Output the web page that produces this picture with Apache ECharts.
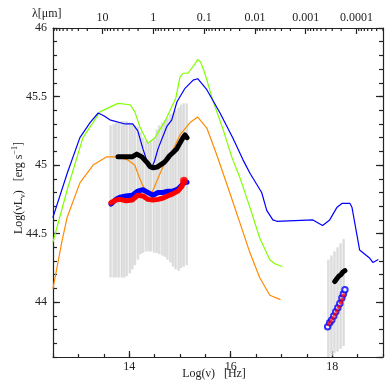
<!DOCTYPE html>
<html><head><meta charset="utf-8">
<script src="https://cdn.jsdelivr.net/npm/echarts@6/dist/echarts.min.js"></script>
<style>html,body{margin:0;padding:0;background:#fff}#c{width:390px;height:390px}</style>
</head><body><div id="c"></div>
<script>
// ---- data (x = log nu [Hz], y = log nuLnu [erg/s]) ----
const blueModel = [[12.5,44.62],[12.78,44.94],[13.03,45.20],[13.23,45.31],[13.39,45.38],[13.50,45.36],[13.62,45.33],[13.92,45.30],[14.07,45.30],[14.17,45.25],[14.27,45.12],[14.35,45.03],[14.43,44.97],[14.50,45.03],[14.57,45.12],[14.74,45.28],[14.84,45.33],[14.94,45.46],[15.10,45.56],[15.26,45.62],[15.35,45.63],[15.53,45.55],[15.79,45.38],[16.04,45.20],[16.24,45.04],[16.38,44.94],[16.61,44.80],[16.71,44.67],[16.83,44.60],[16.91,44.59],[17.62,44.60],[17.81,44.56],[17.95,44.60],[18.09,44.69],[18.19,44.72],[18.35,44.72],[18.39,44.69],[18.54,44.38],[18.74,44.32],[18.80,44.29],[18.90,44.31]];
const greenModel = [[12.5,44.44],[12.78,44.82],[13.09,45.20],[13.43,45.39],[13.78,45.45],[14.02,45.44],[14.11,45.39],[14.21,45.28],[14.37,45.16],[14.51,45.20],[14.72,45.33],[14.92,45.49],[15.00,45.64],[15.06,45.67],[15.16,45.67],[15.30,45.74],[15.35,45.77],[15.41,45.75],[15.49,45.67],[15.65,45.47],[15.85,45.26],[16.02,45.06],[16.18,44.91],[16.38,44.69],[16.57,44.47],[16.77,44.31],[16.87,44.28],[17.01,44.26]];
const orangeModel = [[12.5,44.10],[12.68,44.45],[12.78,44.62],[13.03,44.87],[13.29,45.00],[13.56,45.06],[13.76,45.06],[13.96,45.04],[14.11,45.00],[14.20,44.91],[14.27,44.85],[14.35,44.80],[14.45,44.80],[14.61,44.94],[14.74,45.05],[14.84,45.09],[15.00,45.22],[15.20,45.31],[15.35,45.35],[15.53,45.27],[15.73,45.07],[15.98,44.80],[16.18,44.58],[16.38,44.36],[16.57,44.18],[16.77,44.05],[16.97,44.02]];

const blackOpt = [[13.78,45.06],[13.92,45.06],[14.06,45.06],[14.15,45.08],[14.25,45.06],[14.35,45.02],[14.41,44.99],[14.47,44.98],[14.55,44.985],[14.61,45.00],[14.69,45.02],[14.74,45.04],[14.80,45.07],[14.86,45.09],[14.94,45.12],[15.00,45.16],[15.06,45.20],[15.10,45.22],[15.14,45.20]];
const blueOpt = [[13.64,44.715],[13.74,44.75],[13.82,44.765],[13.94,44.775],[14.06,44.78],[14.17,44.81],[14.27,44.82],[14.37,44.80],[14.47,44.78],[14.57,44.80],[14.67,44.80],[14.76,44.81],[14.86,44.81],[14.96,44.825],[15.04,44.855],[15.10,44.875],[15.14,44.875]];
const redOpt = [[13.64,44.725],[13.74,44.745],[13.82,44.75],[13.94,44.74],[14.06,44.745],[14.17,44.78],[14.27,44.775],[14.37,44.75],[14.47,44.745],[14.57,44.75],[14.67,44.76],[14.76,44.775],[14.86,44.79],[14.96,44.81],[15.04,44.845],[15.08,44.885]];
const redEnd = [[15.08,44.885]];

const blackX = [[18.05,44.15],[18.09,44.17],[18.13,44.19],[18.17,44.20],[18.21,44.22],[18.25,44.23]];
const blueX = [[17.91,43.82],[17.95,43.85],[17.99,43.87],[18.03,43.90],[18.07,43.93],[18.11,43.96],[18.15,43.99],[18.19,44.03],[18.22,44.06],[18.25,44.09]];
const redX = [[17.93,43.84],[17.97,43.86],[18.01,43.885],[18.05,43.91],[18.09,43.935],[18.13,43.965],[18.17,43.995],[18.20,44.02],[18.23,44.05]];

const errX = [13.64,13.70,13.75,13.80,13.86,13.91,13.96,14.02,14.07,14.12,14.18,14.23,14.28,14.34,14.39,14.44,14.50,14.55,14.60,14.66,14.71,14.76,14.82,14.87,14.92,14.98,15.03,15.08,15.14];
const errHigh = [45.29,45.30,45.31,45.31,45.32,45.32,45.32,45.31,45.30,45.29,45.28,45.24,45.20,45.18,45.16,45.18,45.20,45.26,45.29,45.31,45.33,45.34,45.37,45.38,45.40,45.42,45.44,45.45,45.45];
const errLow = [44.18,44.18,44.18,44.18,44.18,44.18,44.19,44.21,44.24,44.27,44.31,44.35,44.36,44.37,44.37,44.37,44.36,44.36,44.35,44.34,44.33,44.31,44.29,44.26,44.24,44.23,44.25,44.26,44.27];
const xrErrX = [17.93,17.99,18.05,18.11,18.17,18.23];
const xrErrHigh = [44.31,44.34,44.37,44.40,44.43,44.46];
const xrErrLow = [43.60,43.61,43.63,43.64,43.66,43.68];

// ---- tick labels ----
const xTickLabels = ['14','16','18'];
const yTickLabels = ['44','44.5','45','45.5','46'];
const lambdaTickLabels = ['10','1','0.1','0.01','0.001','0.0001'];

// ---- axes ----
const X0 = 12.5, X1 = 19, Y0 = 43.6, Y1 = 46;
const LOGC = Math.log10(2.998e14); // c in micron/s
const T0 = X0 - LOGC, T1 = X1 - LOGC; // top axis in -log(lambda)

const FONT = 'Liberation Serif';
const AX = {color:'#222', width:1.2};
const lbl = {fontFamily:FONT, fontSize:12, color:'#222'};
const pick = (arr, s) => arr.indexOf(s) >= 0 ? s : '';

const chart = echarts.init(document.getElementById('c'), null, {renderer:'canvas'});

function errRender(params, api) {
  const top = api.coord([api.value(0), api.value(2)]);
  const bot = api.coord([api.value(0), api.value(1)]);
  return {type:'group', children:[
    {type:'rect', shape:{x:top[0]-1, y:top[1], width:2, height:bot[1]-top[1]}, style:{fill:'#e0e0e0'}},
    {type:'line', shape:{x1:top[0]-1, y1:top[1], x2:top[0]-1, y2:bot[1]}, style:{stroke:'#cbcbcb', lineWidth:0.6}}
  ]};
}
const line = (data, color, w, z) => ({type:'line', data, showSymbol:false, symbol:'none', smooth:false,
  lineStyle:{color, width:w, cap:'round', join:'round'}, z, clip:true, silent:true});

const noSplit = {show:false};
const hidLine = {show:false, onZero:false};
chart.setOption({
  animation:false,
  backgroundColor:'#fff',
  grid:{left:53, right:7, top:28, bottom:33},
  xAxis:[
    {type:'value', position:'bottom', min:X0, max:X1, minInterval:2, maxInterval:2,
      axisLine:{show:true, onZero:false, lineStyle:AX}, axisTick:{inside:true, length:6, lineStyle:AX},
      axisLabel:Object.assign({margin:4, showMinLabel:false, showMaxLabel:false, formatter:v=>pick(xTickLabels, String(+v.toFixed(1)))}, lbl),
      splitLine:noSplit},
    {type:'value', position:'bottom', min:X0, max:X1, interval:0.5,
      axisLine:hidLine, axisTick:{inside:true, length:3, lineStyle:AX}, axisLabel:{show:false}, splitLine:noSplit},
    {type:'value', position:'top', min:T0, max:T1, minInterval:1, maxInterval:1,
      axisLine:{show:true, onZero:false, lineStyle:AX}, axisTick:{inside:true, length:6, lineStyle:AX},
      axisLabel:Object.assign({margin:4, showMinLabel:false, showMaxLabel:false,
        formatter:v=>{ const k = Math.round(v); if (Math.abs(v-k) > 1e-6) return ''; return lambdaTickLabels[k+1] || ''; }}, lbl),
      splitLine:noSplit}
  ],
  yAxis:[
    {type:'value', position:'left', min:Y0, max:Y1, minInterval:0.5, maxInterval:0.5,
      axisLine:{show:true, onZero:false, lineStyle:AX}, axisTick:{inside:true, length:7, lineStyle:AX},
      axisLabel:Object.assign({margin:6, showMinLabel:false, formatter:v=>pick(yTickLabels, String(+v.toFixed(1)))}, lbl),
      splitLine:noSplit},
    {type:'value', position:'left', min:Y0, max:Y1, interval:0.1,
      axisLine:hidLine, axisTick:{inside:true, length:4, lineStyle:AX}, axisLabel:{show:false}, splitLine:noSplit},
    {type:'value', position:'right', min:Y0, max:Y1, minInterval:0.5, maxInterval:0.5,
      axisLine:{show:true, onZero:false, lineStyle:AX}, axisTick:{inside:true, length:7, lineStyle:AX}, axisLabel:{show:false}, splitLine:noSplit},
    {type:'value', position:'right', min:Y0, max:Y1, interval:0.1,
      axisLine:hidLine, axisTick:{inside:true, length:4, lineStyle:AX}, axisLabel:{show:false}, splitLine:noSplit}
  ],
  series:[
    {type:'custom', renderItem:errRender, data: errX.map((x,i)=>[x, errLow[i], errHigh[i]]), z:1, silent:true, clip:true},
    {type:'custom', renderItem:errRender, data: xrErrX.map((x,i)=>[x, xrErrLow[i], xrErrHigh[i]]), z:1, silent:true, clip:true},
    line(orangeModel, '#ff8a00', 1.2, 3),
    line(greenModel, '#80ff00', 1.2, 3),
    line(blueModel, '#0000ff', 1.2, 3),
    line(blackOpt, '#000', 5, 5),
    line(blueOpt, '#0000ff', 5, 5),
    line(redOpt, '#ff0000', 5, 6),
    {type:'scatter', data:redEnd, symbol:'circle', symbolSize:8, itemStyle:{color:'#ff0000'}, z:7, silent:true},
    line(blackX, '#000', 5, 5),
    {type:'scatter', data:blueX, symbol:'emptyCircle', symbolSize:5.5, itemStyle:{color:'#0000ff', borderColor:'#0000ff', borderWidth:1.3}, z:6, silent:true},
    {type:'scatter', data:redX, symbol:'circle', symbolSize:4, itemStyle:{color:'#ff0000'}, z:7, silent:true}
  ]
});

// top axis minor ticks: log-spaced wavelengths (2..9 per decade), placed through the axis scale
const minorTicks = [];
const pyTop = chart.convertToPixel({yAxisIndex:0}, Y1);
for (let d = -5; d <= 2; d++) for (let m = 2; m <= 9; m++) {
  const t = -Math.log10(m * Math.pow(10, d));
  if (t > T0 && t < T1) {
    const px = chart.convertToPixel({xAxisIndex:2}, t);
    minorTicks.push({type:'line', silent:true, shape:{x1:px, y1:pyTop, x2:px, y2:pyTop+3}, style:{stroke:'#222', lineWidth:1.2}});
  }
}
chart.setOption({graphic:[
  {type:'group', children:minorTicks},
  {type:'text', x:32, y:14, style:{text:'λ[μm]', fontFamily:FONT, fontSize:12, fill:'#222', align:'left', verticalAlign:'middle'}},
  {type:'text', x:214, y:374, style:{text:'Log(ν)   [Hz]', fontFamily:FONT, fontSize:12, fill:'#222', align:'center', verticalAlign:'middle'}},
  {type:'text', x:19, y:188, rotation:Math.PI/2, style:{
    text:'{a|Log(νL}{s|ν}{a|)   [erg s}{p|−1}{a|]}', align:'center', verticalAlign:'middle',
    rich:{a:{fontFamily:FONT, fontSize:12, fill:'#222', lineHeight:16},
          s:{fontFamily:FONT, fontSize:8, fill:'#222', lineHeight:9, verticalAlign:'bottom'},
          p:{fontFamily:FONT, fontSize:8, fill:'#222', lineHeight:9, verticalAlign:'top'}}}}
]});
</script></body></html>
